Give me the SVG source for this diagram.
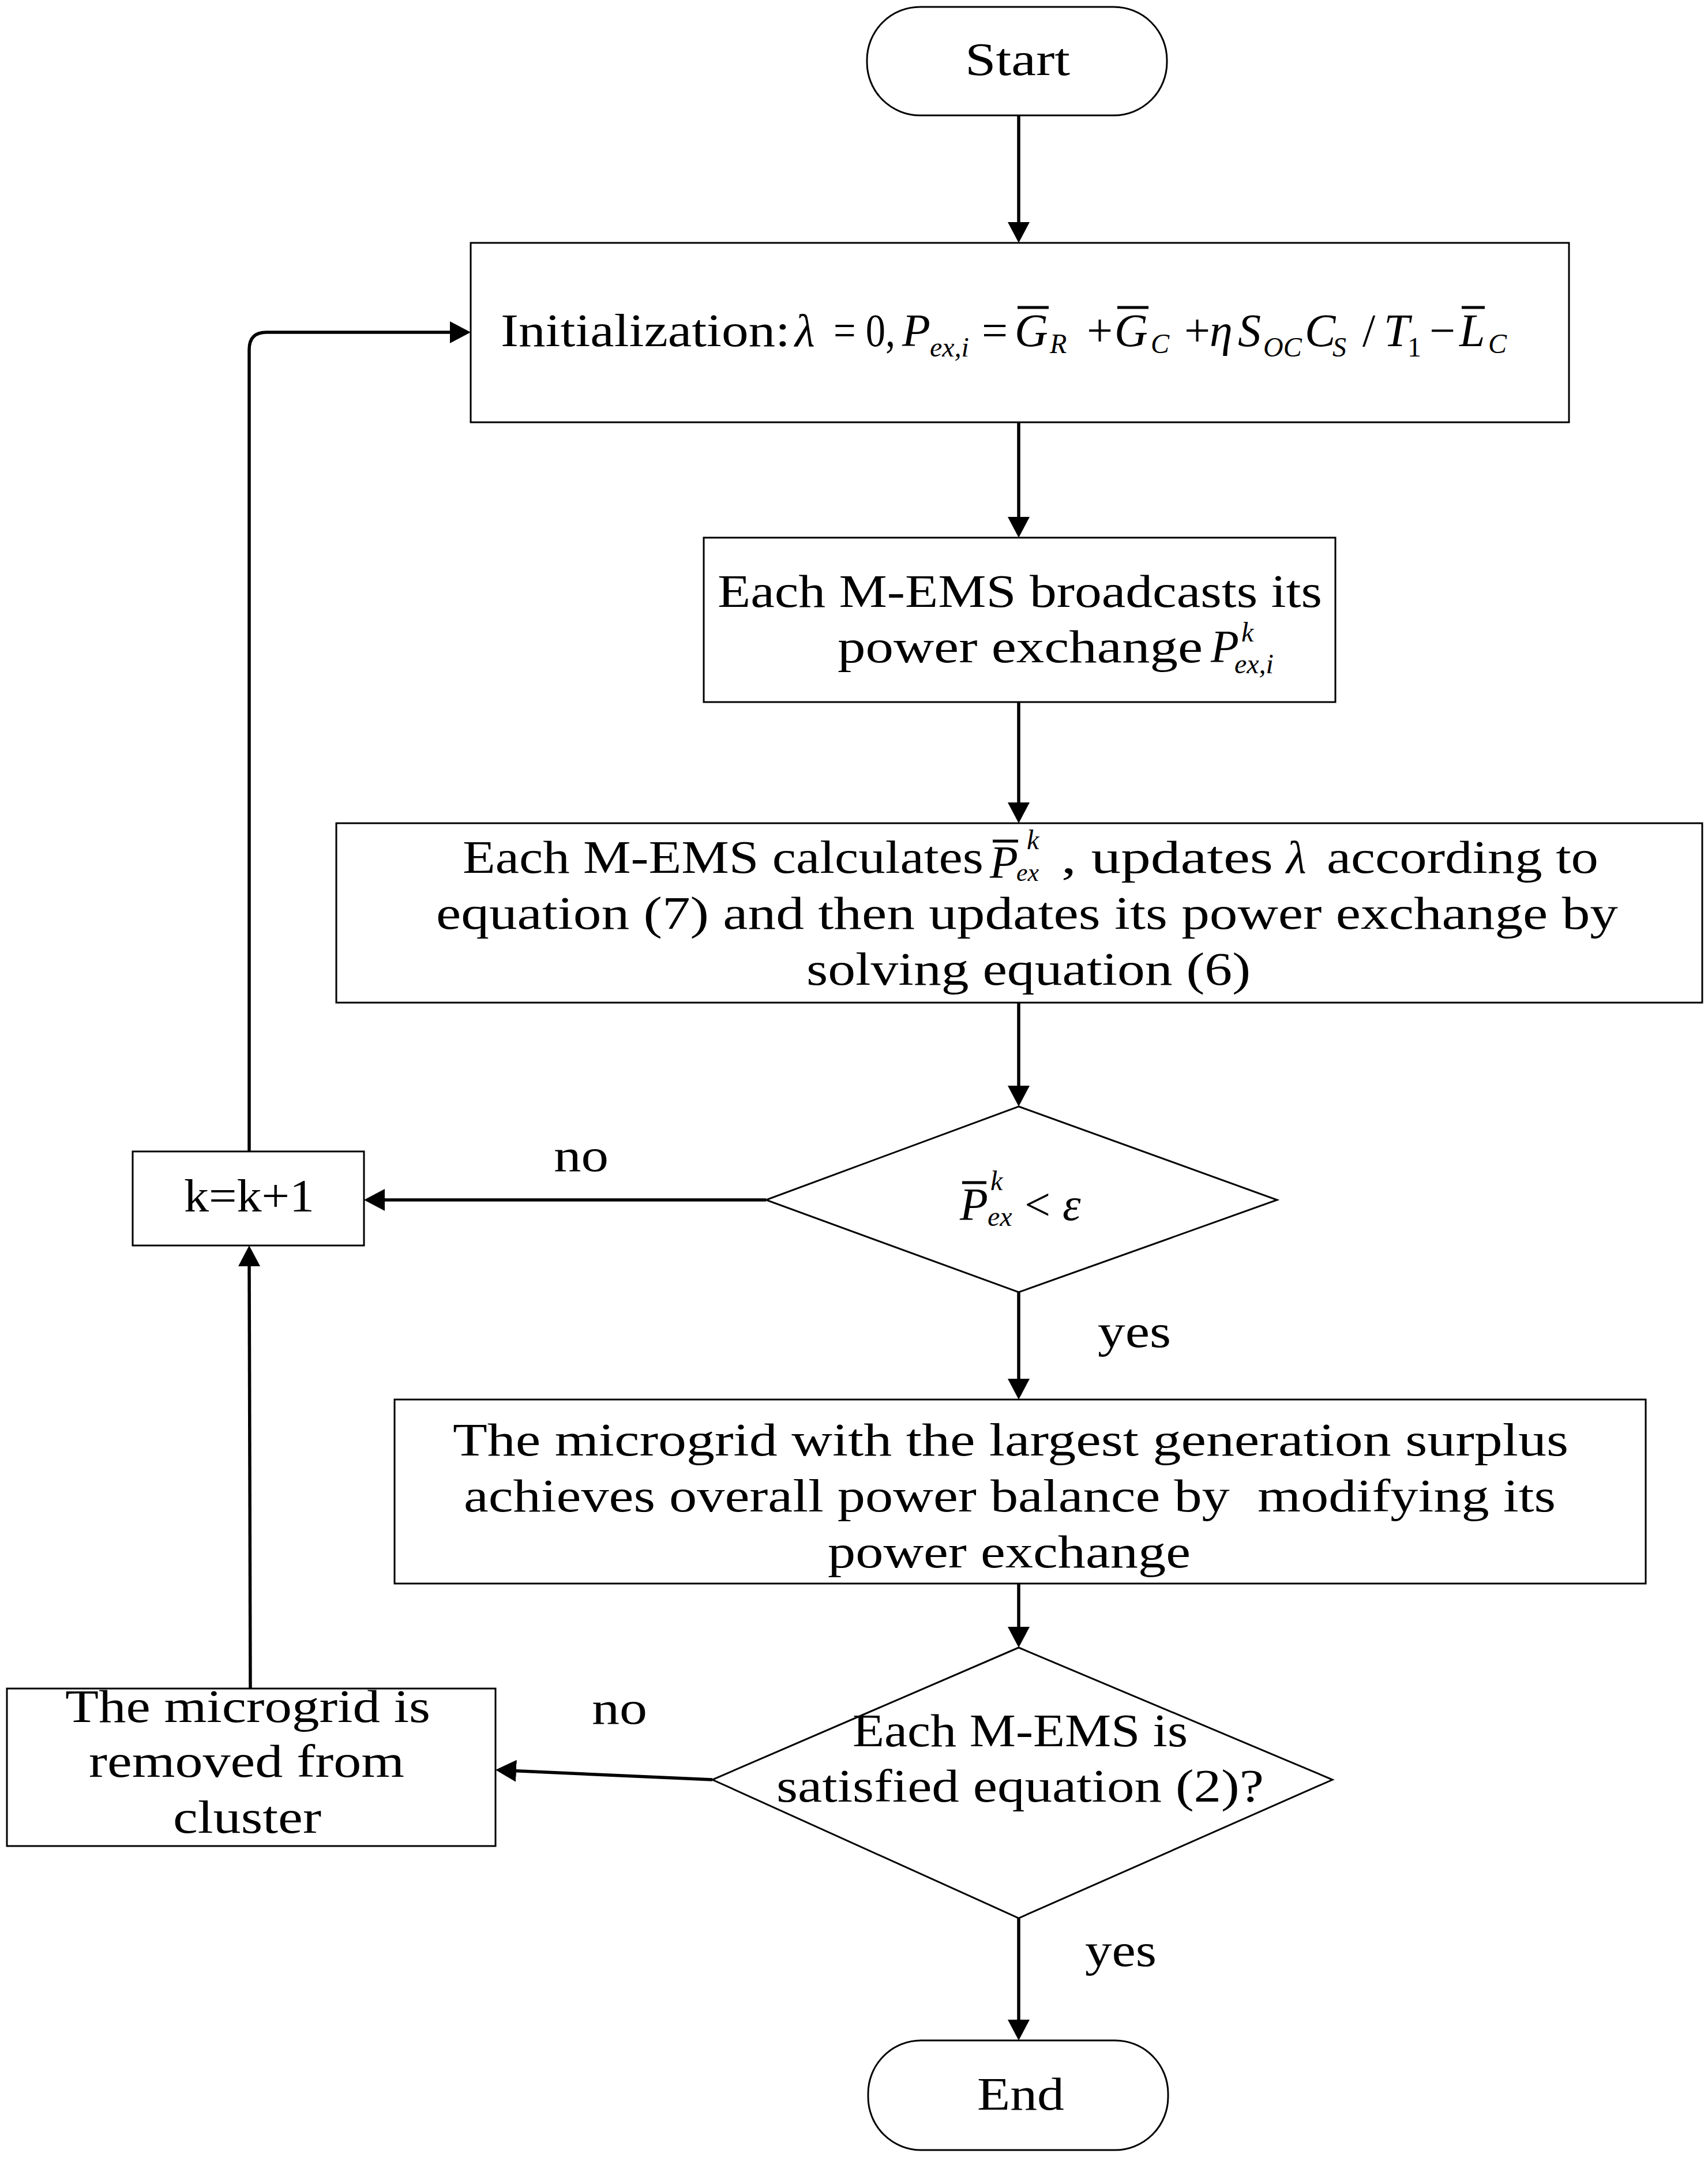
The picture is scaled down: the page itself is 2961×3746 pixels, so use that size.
<svg xmlns="http://www.w3.org/2000/svg" width="2961" height="3746" viewBox="0 0 2961 3746">
<style>
  text { font-family: "Liberation Serif", "Times New Roman", serif; font-size: 80px; fill: #000; }
  .it { font-style: italic; }
  .sub { font-style: italic; font-size: 48px; }
  .subr { font-style: normal; font-size: 48px; }
  .shape { fill: #fff; stroke: #000; stroke-width: 3; }
  .conn { fill: none; stroke: #000; stroke-width: 5.5; }
  .bar { stroke: #000; stroke-width: 5; }
</style>
<defs>
  <marker id="ah" viewBox="0 0 36 38" markerWidth="36" markerHeight="38" refX="16" refY="19" orient="auto" markerUnits="userSpaceOnUse">
    <path d="M0,0 L36,19 L0,38 z" fill="#000"/>
  </marker>
</defs>
<rect width="2961" height="3746" fill="#fff"/>

<g id="connectors">
  <line class="conn" x1="1766" y1="200" x2="1766" y2="401" marker-end="url(#ah)"/>
  <line class="conn" x1="1766" y1="732" x2="1766" y2="912" marker-end="url(#ah)"/>
  <line class="conn" x1="1766" y1="1217" x2="1766" y2="1407" marker-end="url(#ah)"/>
  <line class="conn" x1="1766" y1="1738" x2="1766" y2="1898" marker-end="url(#ah)"/>
  <line class="conn" x1="1328" y1="2080" x2="651" y2="2080" marker-end="url(#ah)"/>
  <path class="conn" d="M432,1996 V606 Q432,576 462,576 H796" marker-end="url(#ah)"/>
  <line class="conn" x1="1766" y1="2240" x2="1766" y2="2406" marker-end="url(#ah)"/>
  <line class="conn" x1="1766" y1="2745" x2="1766" y2="2836" marker-end="url(#ah)"/>
  <line class="conn" x1="1235" y1="3085" x2="879" y2="3069" marker-end="url(#ah)"/>
  <line class="conn" x1="434" y1="2927" x2="432" y2="2179" marker-end="url(#ah)"/>
  <line class="conn" x1="1766" y1="3325" x2="1766" y2="3517" marker-end="url(#ah)"/>
  <text x="960" y="2030" textLength="95" lengthAdjust="spacingAndGlyphs">no</text>
  <text x="1903" y="2335" textLength="127" lengthAdjust="spacingAndGlyphs">yes</text>
  <text x="1026" y="2988" textLength="96" lengthAdjust="spacingAndGlyphs">no</text>
  <text x="1881" y="3408" textLength="124" lengthAdjust="spacingAndGlyphs">yes</text>
</g>

<g id="start">
  <rect class="shape" x="1503" y="12" width="520" height="188" rx="92" ry="92"/>
  <text x="1673" y="130" textLength="182" lengthAdjust="spacingAndGlyphs">Start</text>
</g>

<g id="init">
  <rect class="shape" x="816" y="421" width="1904" height="311"/>
  <text x="868" y="600" textLength="502" lengthAdjust="spacingAndGlyphs">Initialization:</text>
  <text class="it" x="1378" y="600">λ</text>
  <text x="1445" y="600" textLength="107" lengthAdjust="spacingAndGlyphs">= 0,</text>
  <text class="it" x="1564" y="600">P</text>
  <text class="sub" x="1612" y="618">ex,i</text>
  <text x="1702" y="600">=</text>
  <text class="it" x="1759" y="600">G</text>
  <text class="sub" x="1820" y="612">R</text>
  <line class="bar" x1="1764" y1="533" x2="1818" y2="533"/>
  <text x="1884" y="600">+</text>
  <text class="it" x="1932" y="600">G</text>
  <text class="sub" x="1995" y="612">C</text>
  <line class="bar" x1="1937" y1="533" x2="1991" y2="533"/>
  <text x="2053" y="600">+</text>
  <text class="it" x="2097" y="600">η</text>
  <text class="it" x="2146" y="600">S</text>
  <text class="sub" x="2190" y="618">OC</text>
  <text class="it" x="2262" y="600">C</text>
  <text class="sub" x="2310" y="618">S</text>
  <text x="2362" y="600">/</text>
  <text class="it" x="2399" y="600">T</text>
  <text class="subr" x="2440" y="618">1</text>
  <text x="2478" y="600">−</text>
  <text class="it" x="2530" y="600">L</text>
  <text class="sub" x="2580" y="612">C</text>
  <line class="bar" x1="2534" y1="533" x2="2574" y2="533"/>
</g>

<g id="broadcast">
  <rect class="shape" x="1220" y="932" width="1095" height="285"/>
  <text x="1244" y="1052" textLength="1048" lengthAdjust="spacingAndGlyphs">Each M-EMS broadcasts its</text>
  <text x="1452" y="1148" textLength="633" lengthAdjust="spacingAndGlyphs">power exchange</text>
  <text class="it" x="2099" y="1148">P</text>
  <text class="sub" x="2152" y="1112">k</text>
  <text class="sub" x="2140" y="1167">ex,i</text>
</g>

<g id="calc">
  <rect class="shape" x="583" y="1427" width="2368" height="311"/>
  <text x="802" y="1513" textLength="903" lengthAdjust="spacingAndGlyphs">Each M-EMS calculates</text>
  <text class="it" x="1716" y="1522">P</text>
  <line class="bar" x1="1721" y1="1458" x2="1765" y2="1458"/>
  <text class="sub" x="1780" y="1472">k</text>
  <text class="sub" x="1762" y="1527" font-size="44" style="font-size:44px">ex</text>
  <text x="1840" y="1513" textLength="367" lengthAdjust="spacingAndGlyphs">, updates</text>
  <text class="it" x="2230" y="1513">λ</text>
  <text x="2300" y="1513" textLength="471" lengthAdjust="spacingAndGlyphs">according to</text>
  <text x="756" y="1610" textLength="2049" lengthAdjust="spacingAndGlyphs">equation (7) and then updates its power exchange by</text>
  <text x="1398" y="1707" textLength="770" lengthAdjust="spacingAndGlyphs">solving equation (6)</text>
</g>

<g id="check1">
  <polygon class="shape" points="1766,1918 2214,2080 1766,2240 1328,2080"/>
  <text class="it" x="1664" y="2115">P</text>
  <line class="bar" x1="1668" y1="2050" x2="1710" y2="2050"/>
  <text class="sub" x="1717" y="2063">k</text>
  <text class="sub" x="1712" y="2125">ex</text>
  <text x="1776" y="2115">&lt;</text>
  <text class="it" x="1842" y="2115">ε</text>
</g>

<g id="kinc">
  <rect class="shape" x="230" y="1996" width="401" height="163"/>
  <text x="319" y="2100" textLength="226" lengthAdjust="spacingAndGlyphs">k=k+1</text>
</g>

<g id="surplus">
  <rect class="shape" x="684" y="2426" width="2169" height="319"/>
  <text x="785" y="2523" textLength="1934" lengthAdjust="spacingAndGlyphs">The microgrid with the largest generation surplus</text>
  <text x="804" y="2620" textLength="1893" lengthAdjust="spacingAndGlyphs" xml:space="preserve">achieves overall power balance by  modifying its</text>
  <text x="1435" y="2717" textLength="629" lengthAdjust="spacingAndGlyphs">power exchange</text>
</g>

<g id="check2">
  <polygon class="shape" points="1766,2856 2310,3085 1766,3325 1235,3085"/>
  <text x="1478" y="3027" textLength="581" lengthAdjust="spacingAndGlyphs">Each M-EMS is</text>
  <text x="1346" y="3123" textLength="845" lengthAdjust="spacingAndGlyphs">satisfied equation (2)?</text>
</g>

<g id="removed">
  <rect class="shape" x="12" y="2927" width="847" height="273"/>
  <text x="113" y="2985" textLength="633" lengthAdjust="spacingAndGlyphs">The microgrid is</text>
  <text x="154" y="3080" textLength="547" lengthAdjust="spacingAndGlyphs">removed from</text>
  <text x="300" y="3177" textLength="257" lengthAdjust="spacingAndGlyphs">cluster</text>
</g>

<g id="end">
  <rect class="shape" x="1505" y="3537" width="520" height="190" rx="92" ry="92"/>
  <text x="1694" y="3657" textLength="151" lengthAdjust="spacingAndGlyphs">End</text>
</g>
</svg>
